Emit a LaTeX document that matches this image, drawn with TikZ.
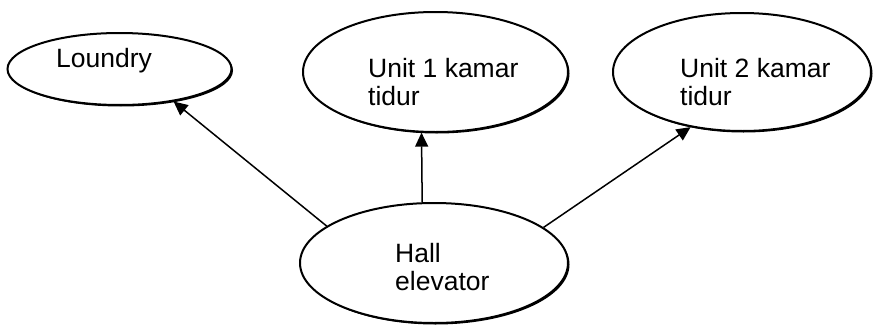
\documentclass[tikz,border=0pt]{standalone}
\usepackage{fontspec}
\setmainfont{Liberation Sans}
\usetikzlibrary{arrows.meta,shapes.geometric,shadows}

\begin{document}
\begin{tikzpicture}
  [x=1pt,y=1pt,
   room/.style={ellipse,draw,line width=2pt,fill=white,inner sep=0pt,
     drop shadow={shadow xshift=1.5pt,shadow yshift=-1.5pt,fill=black,opacity=1}},
   txt/.style={anchor=base west,inner sep=0pt,align=left,
     font=\fontsize{26.5}{28}\selectfont},
   link/.style={line width=1.5pt,-{Triangle[length=14pt,width=13pt]}}]
  \useasboundingbox (0,0) rectangle (873,325);
  \node[room,minimum width=224pt,minimum height=72pt]  (loundry) at (119.5,256) {};
  \node[room,minimum width=265pt,minimum height=120pt] (unit1)   at (435.5,253) {};
  \node[room,minimum width=258pt,minimum height=118pt] (unit2)   at (742,253)   {};
  \node[room,minimum width=268pt,minimum height=120pt] (hall)    at (434,62)    {};
  % base anchor sits on the last line
  \node[txt] (tloundry) at (56,258)  {Loundry};
  \node[txt] (tunit1)   at (368,220) {Unit 1 kamar\\tidur};
  \node[txt] (tunit2)   at (680,220) {Unit 2 kamar\\tidur};
  \node[txt] (thall)    at (395,35)  {Hall\\elevator};
\foreach \from/\to in
{hall.161.4/loundry.329, hall.101/unit1.257.5, hall.18.3/unit2.227.5}
    \draw[link] (\from) -- (\to);
\end{tikzpicture}
\end{document}
